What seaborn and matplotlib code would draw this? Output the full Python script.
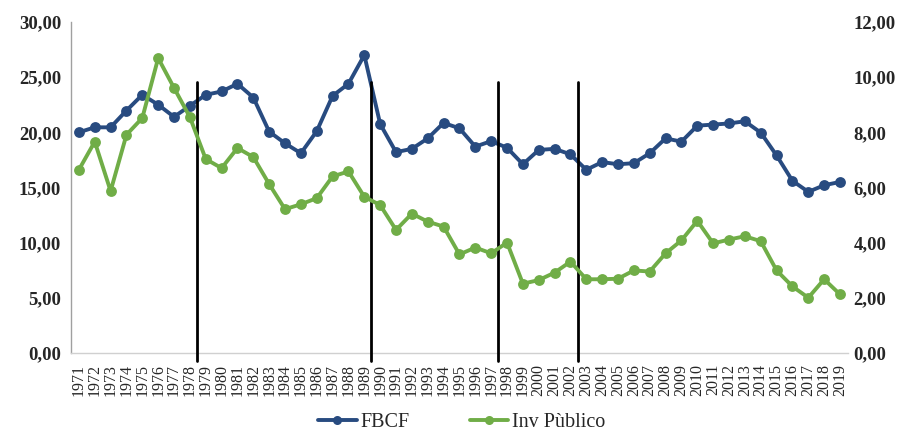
import matplotlib
matplotlib.use("Agg")
import matplotlib.pyplot as plt
import seaborn as sns
import numpy as np
import pandas as pd
from matplotlib.lines import Line2D

years = list(range(1971, 2020))
fbcf = [20.0, 20.45, 20.45, 21.97, 23.4, 22.5, 21.4, 22.4, 23.4, 23.7,
        24.4, 23.15, 20.06, 19.0, 18.1, 20.1, 23.3, 24.4, 27.0, 20.75,
        18.2, 18.5, 19.45, 20.85, 20.36, 18.7, 19.2, 18.6, 17.1, 18.4,
        18.5, 18.0, 16.6, 17.3, 17.1, 17.2, 18.1, 19.45, 19.15, 20.6,
        20.7, 20.8, 21.0, 19.97, 17.9, 15.6, 14.6, 15.2, 15.5]
inv_publico = [6.64, 7.66, 5.87, 7.91, 8.52, 10.69, 9.61, 8.55, 7.03, 6.70,
               7.43, 7.10, 6.12, 5.21, 5.39, 5.61, 6.40, 6.58, 5.66, 5.36,
               4.46, 5.05, 4.76, 4.58, 3.57, 3.82, 3.61, 4.00, 2.51, 2.64,
               2.91, 3.31, 2.67, 2.67, 2.69, 2.99, 2.95, 3.61, 4.08, 4.79,
               3.97, 4.11, 4.23, 4.05, 2.99, 2.41, 2.00, 2.67, 2.12]
break_years = [1978, 1989, 1997, 2002]
left_ticks = [0, 5, 10, 15, 20, 25, 30]
right_ticks = [0, 2, 4, 6, 8, 10, 12]

sns.set_theme(style="white")
plt.rcParams['font.family'] = ['Liberation Serif', 'DejaVu Serif']

blue = "#284B80"
green = "#70AD47"

fig = plt.figure(figsize=(9.04, 4.4), dpi=100)
ax = fig.add_axes([0.0785, 0.198, 0.8595, 0.752])
ax2 = ax.twinx()

df = pd.DataFrame({"year": years, "FBCF": fbcf, "Inv": inv_publico})
sns.lineplot(data=df, x="year", y="FBCF", ax=ax, color=blue, lw=2.8,
             marker="o", markersize=7.8, markeredgewidth=0, zorder=3)
sns.lineplot(data=df, x="year", y="Inv", ax=ax2, color=green, lw=2.8,
             marker="o", markersize=7.8, markeredgewidth=0, zorder=3)

ax.set_xlim(years[0] - 0.5, years[-1] + 0.5)
ax.set_ylim(0, 30)
ax2.set_ylim(0, 12)

# vertical break lines
for by in break_years:
    ax.plot([by + 0.45, by + 0.45], [-0.7, 24.6], color="black", lw=2,
            clip_on=False, zorder=4)

ax.set_xticks(years)
ax.set_xticklabels([str(y) for y in years], rotation=90, fontsize=11.5)
ax.set_yticks(left_ticks)
ax.set_yticklabels([f"{v:.2f}".replace(".", ",") for v in left_ticks],
                   fontsize=13.5, fontweight="bold")
ax2.set_yticks(right_ticks)
ax2.set_yticklabels([f"{v:.2f}".replace(".", ",") for v in right_ticks],
                    fontsize=13.5, fontweight="bold")
for a in (ax, ax2):
    a.set_xlabel("")
    a.set_ylabel("")
    a.tick_params(length=0)
    for s in ("top", "right", "left", "bottom"):
        a.spines[s].set_visible(False)
ax.spines["left"].set_visible(True)
ax.spines["left"].set_color("#A0A0A0")
ax.spines["left"].set_linewidth(1)
ax.spines["bottom"].set_visible(True)
ax.spines["bottom"].set_color("#D0D0D0")
ax.spines["bottom"].set_linewidth(1)
ax.tick_params(axis="x", pad=8)
ax.tick_params(axis="y", pad=7)
ax2.tick_params(axis="y", pad=4)

handles = [Line2D([0], [0], color=blue, lw=2.8, marker="o", markersize=6.5, markeredgewidth=0),
           Line2D([0], [0], color=green, lw=2.8, marker="o", markersize=6.5, markeredgewidth=0)]
fig.legend(handles, ["FBCF", "Inv Pùblico"], loc="lower center",
           bbox_to_anchor=(0.511, -0.022), ncol=2, frameon=False,
           fontsize=14.5, handlelength=1.9, columnspacing=3.0, handletextpad=0.2)

fig.savefig("out.png", dpi=100)
